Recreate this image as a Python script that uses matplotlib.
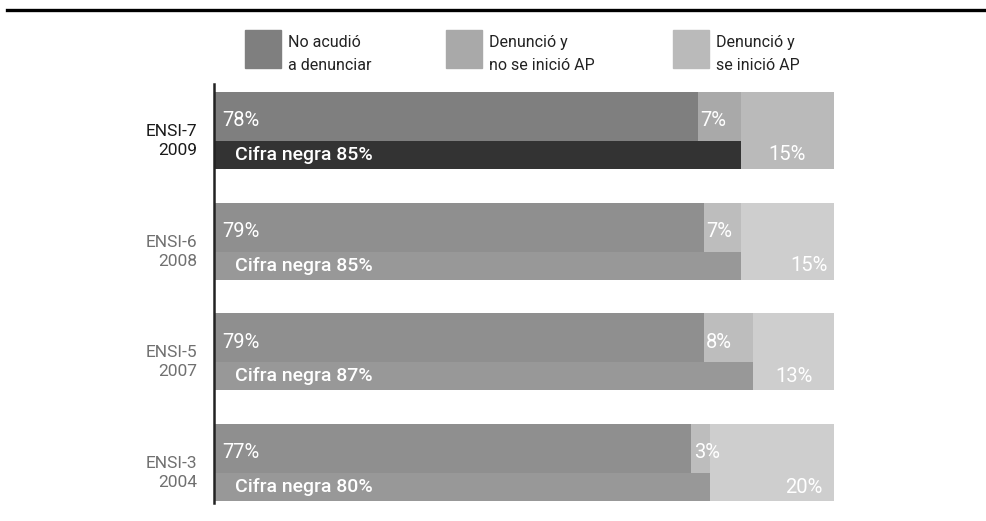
import matplotlib
matplotlib.use("Agg")
import matplotlib.pyplot as plt
from matplotlib.lines import Line2D
from matplotlib.patches import Rectangle

# datos (porcentajes)
encuestas = ["ENSI-7\n2009", "ENSI-6\n2008", "ENSI-5\n2007", "ENSI-3\n2004"]
no_acudio = [78, 79, 79, 77]
denuncio_sin_ap = [7, 7, 8, 3]
denuncio_con_ap = [15, 15, 13, 20]
cifra_negra = [85, 85, 87, 80]
leyenda = ["No acudió\na denunciar", "Denunció y\nno se inició AP", "Denunció y\nse inició AP"]

FONT = ["Roboto", "DejaVu Sans"]

# colores: el primer grupo va resaltado
col_hi = {"no": "#7f7f7f", "sin": "#a9a9a9", "con": "#bababa", "cifra": "#333333"}
col_lo = {"no": "#8f8f8f", "sin": "#bdbdbd", "con": "#cecece", "cifra": "#989898"}

fig = plt.figure(figsize=(9.87, 5.21), dpi=100)
ax = fig.add_axes([214 / 987, 18 / 521, 620 / 987, 419 / 521])

up_h = 0.443
lo_h = 0.253
tot_h = up_h + lo_h

for i in range(len(encuestas)):
    c = col_hi if i == 0 else col_lo
    y_up = i + up_h / 2
    y_lo = i + up_h + lo_h / 2
    ax.barh(y_up, no_acudio[i], height=up_h, left=0, color=c["no"], zorder=2)
    ax.barh(y_up, denuncio_sin_ap[i], height=up_h, left=no_acudio[i], color=c["sin"], zorder=2)
    ax.barh(i + tot_h / 2, denuncio_con_ap[i], height=tot_h, left=100 - denuncio_con_ap[i],
            color=c["con"], zorder=3)
    ax.barh(y_lo, cifra_negra[i], height=lo_h, left=0, color=c["cifra"], zorder=2)

    # etiquetas dentro de las barras
    ax.text(1.3, y_up + 0.04, f"{no_acudio[i]}%", color="white", fontsize=14.5,
            family=FONT, va="center", ha="left", zorder=5)
    ax.text(no_acudio[i] + 0.4, y_up + 0.04, f"{denuncio_sin_ap[i]}%", color="white",
            fontsize=14.5, family=FONT, va="center", ha="left", zorder=5)
    ax.text(3.4, y_lo, f"Cifra negra {cifra_negra[i]}%", color="white", fontsize=14,
            family=FONT, weight="medium", va="center", ha="left", zorder=5)
    if i % 2 == 0:
        ax.text(100 - denuncio_con_ap[i] / 2, y_lo, f"{denuncio_con_ap[i]}%", color="white",
                fontsize=14.5, family=FONT, va="center", ha="center", zorder=5)
    else:
        ax.text(99.0 - 0.8 * (i == 3), y_lo, f"{denuncio_con_ap[i]}%", color="white",
                fontsize=14.5, family=FONT, va="center", ha="right", zorder=5)

    # etiqueta de la encuesta
    ax.text(-2.7, i + up_h, encuestas[i], color="#1a1a1a" if i == 0 else "#707070",
            fontsize=12.5, family=FONT, va="center", ha="right", linespacing=1.35,
            transform=ax.transData, clip_on=False)

ax.set_xlim(0, 100)
ax.set_ylim(3.714, -0.072)
ax.set_xticks([])
ax.set_yticks([])
for s in ["top", "right", "bottom"]:
    ax.spines[s].set_visible(False)
ax.spines["left"].set_linewidth(1.8)
ax.spines["left"].set_color("#222222")

# leyenda
sw_x = [245, 446, 673]
sw_col = [col_hi["no"], col_hi["sin"], col_hi["con"]]
for x, col, txt in zip(sw_x, sw_col, leyenda):
    fig.add_artist(Rectangle((x / 987, 1 - 68 / 521), 36 / 987, 38 / 521,
                             transform=fig.transFigure, color=col))
    fig.text((x + 43) / 987, 1 - 54 / 521, txt, fontsize=11.5, family=FONT,
             color="#222222", va="center", ha="left", linespacing=1.6)

# linea superior
fig.add_artist(Line2D([7 / 987, 1], [1 - 10 / 521, 1 - 10 / 521], color="black",
                      linewidth=2.4, transform=fig.transFigure))

fig.savefig("out.png", dpi=100)
